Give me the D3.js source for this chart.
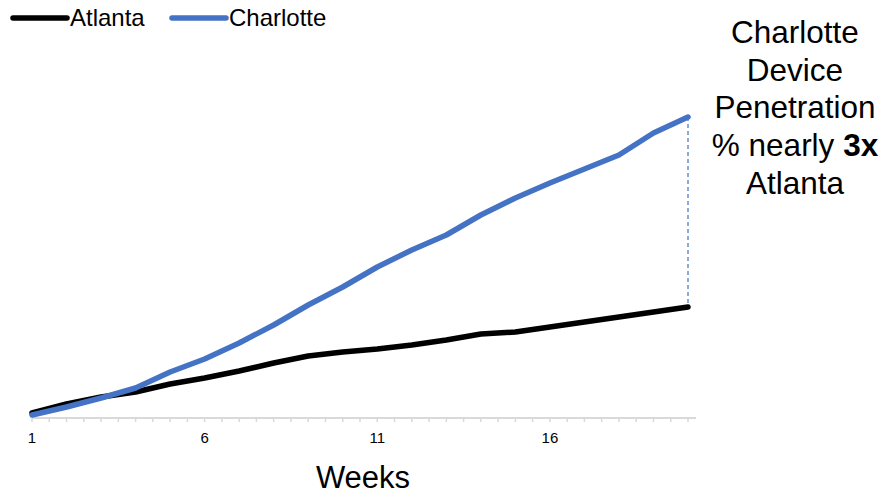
<!DOCTYPE html>
<html>
<head>
<meta charset="utf-8">
<script src="https://cdn.jsdelivr.net/npm/d3@7"></script>
<style>
  html, body { margin: 0; padding: 0; background: #fff; }
  svg { display: block; font-family: "Liberation Sans", Arial, sans-serif; }
</style>
</head>
<body>
<svg id="chart" width="885" height="497"></svg>
<script>
// Data (device penetration %)
const weeks = d3.range(1, 21);
const atlanta = [0.5, 1.4, 2.1, 2.6, 3.4, 4.0, 4.7, 5.5, 6.2, 6.6, 6.9, 7.3, 7.8, 8.4, 8.6, 9.1, 9.6, 10.1, 10.6, 11.1];
const charlotte = [0.3, 1.1, 2.0, 3.0, 4.6, 5.9, 7.5, 9.3, 11.3, 13.1, 15.1, 16.8, 18.3, 20.3, 22.0, 23.5, 24.9, 26.3, 28.5, 30.1];
const tickLabels = [1, 6, 11, 16];
const seriesNames = ["Atlanta", "Charlotte"];
const colors = ["#000000", "#4472C4"];
const annotationLines = ["Charlotte", "Device", "Penetration", null, "Atlanta"];

const svg = d3.select("#chart");
const x = d3.scaleLinear().domain([1, 20]).range([32, 688]);
const y = d3.scaleLinear().domain([0, 35]).range([418, 68]);

// Axis
const axisG = svg.append("g").attr("transform", "translate(0,418)");
axisG.append("line").attr("x1", x(1)).attr("x2", x(20) + 8).attr("y1", 0).attr("y2", 0)
  .attr("stroke", "#d9d9d9").attr("stroke-width", 2);
const minor = d3.range(1, 20.01, 0.5);
axisG.selectAll("line.tick").data(minor).join("line").attr("class", "tick")
  .attr("x1", d => x(d)).attr("x2", d => x(d)).attr("y1", 0).attr("y2", 4)
  .attr("stroke", "#d9d9d9").attr("stroke-width", 1.5);
axisG.selectAll("text").data(tickLabels).join("text")
  .attr("x", d => x(d)).attr("y", 25).attr("text-anchor", "middle")
  .attr("font-size", 15).attr("fill", "#000").text(d => d);

svg.append("text").attr("x", 363).attr("y", 488).attr("text-anchor", "middle")
  .attr("font-size", 31).attr("fill", "#000").text("Weeks");

// Dashed connector
svg.append("line").attr("x1", x(20)).attr("x2", x(20))
  .attr("y1", y(charlotte[19])).attr("y2", y(atlanta[19]))
  .attr("stroke", "#4472C4").attr("stroke-width", 1.2).attr("stroke-dasharray", "4,3");

// Lines
const line = d3.line().x((d, i) => x(weeks[i])).y(d => y(d));
[atlanta, charlotte].forEach((s, i) => {
  svg.append("path").datum(s).attr("d", line).attr("fill", "none")
    .attr("stroke", colors[i]).attr("stroke-width", 5.5)
    .attr("stroke-linejoin", "round").attr("stroke-linecap", "round");
});

// Legend
const legX = [13, 172];
seriesNames.forEach((n, i) => {
  svg.append("line").attr("x1", legX[i]).attr("x2", legX[i] + 54).attr("y1", 18).attr("y2", 18)
    .attr("stroke", colors[i]).attr("stroke-width", 5.5).attr("stroke-linecap", "round");
  svg.append("text").attr("x", legX[i] + 57).attr("y", 26).attr("font-size", 24)
    .attr("fill", "#000").text(n);
});

// Annotation
const ann = svg.append("text").attr("text-anchor", "middle").attr("font-size", 31.5).attr("fill", "#000");
annotationLines.forEach((t, i) => {
  const ts = ann.append("tspan").attr("x", 795).attr("y", 43 + i * 37.7);
  if (t === null) {
    ts.text("% nearly ");
    ann.append("tspan").attr("font-weight", "bold").text("3x");
  } else ts.text(t);
});
</script>
</body>
</html>
